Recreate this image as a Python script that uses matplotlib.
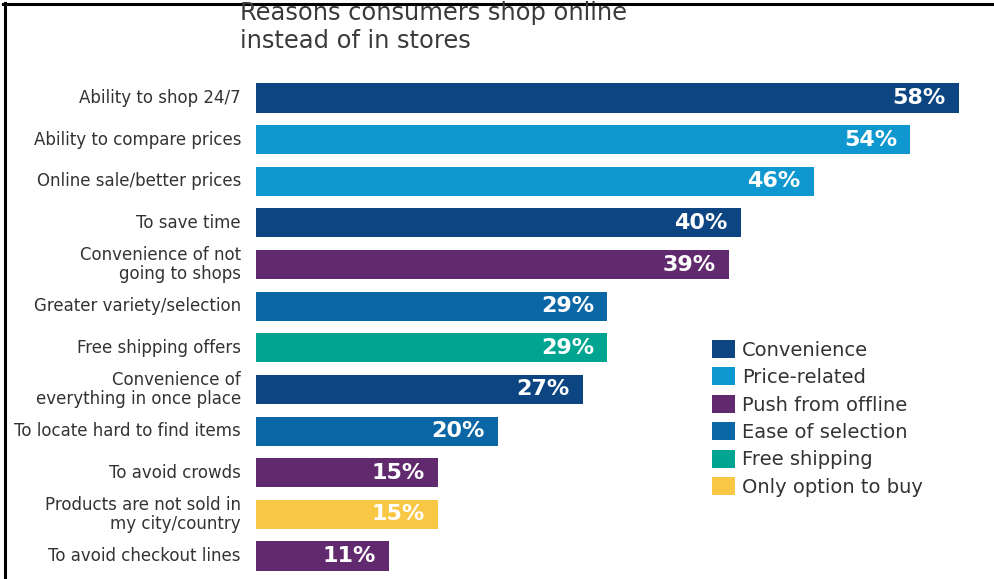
import matplotlib.pyplot as plt
from matplotlib.patches import Patch
from matplotlib.lines import Line2D

# Survey answers, top to bottom
reasons = [
    "Ability to shop 24/7",
    "Ability to compare prices",
    "Online sale/better prices",
    "To save time",
    "Convenience of not\ngoing to shops",
    "Greater variety/selection",
    "Free shipping offers",
    "Convenience of\neverything in once place",
    "To locate hard to find items",
    "To avoid crowds",
    "Products are not sold in\nmy city/country",
    "To avoid checkout lines",
]
shares = [58, 54, 46, 40, 39, 29, 29, 27, 20, 15, 15, 11]
groups = [
    "Convenience", "Price-related", "Price-related", "Convenience",
    "Push from offline", "Ease of selection", "Free shipping", "Convenience",
    "Ease of selection", "Push from offline", "Only option to buy",
    "Push from offline",
]
group_names = ["Convenience", "Price-related", "Push from offline",
               "Ease of selection", "Free shipping", "Only option to buy"]
title_lines = ["Reasons consumers shop online", "instead of in stores"]

palette = {
    "Convenience": "#0c4582",
    "Price-related": "#0f98cf",
    "Push from offline": "#622a6e",
    "Ease of selection": "#0b66a6",
    "Free shipping": "#00a592",
    "Only option to buy": "#f8c743",
}
TEXT = "#333333"

W, H = 994, 579
fig = plt.figure(figsize=(W / 100, H / 100), dpi=100)
fig.patch.set_facecolor("white")

# axes: x=0 at 256px, 12.12 px per percent; rows 41.6 px apart starting at 98px
px_per_unit = 12.12
row = 41.64
ax = fig.add_axes([256 / W, 0, (W - 256) / W, 1])
ax.set_xlim(0, (W - 256) / px_per_unit)
ax.set_ylim((H - 98) / row, -98 / row)
ax.axis("off")

ypos = list(range(len(reasons)))
colors = [palette[g] for g in groups]
ax.barh(ypos, shares, height=0.70, color=colors, edgecolor="none")

for y, v, lab in zip(ypos, shares, reasons):
    ax.text(v - 1.1, y, f"{v}%", ha="right", va="center", color="white",
            fontsize=16, fontweight="bold", family="DejaVu Sans")
    ax.text(-15 / px_per_unit, y, lab, ha="right", va="center", color=TEXT,
            fontsize=12, linespacing=1.05, clip_on=False)

# title, two lines
for i, line in enumerate(title_lines):
    fig.text(240 / W, 1 - (20 + 28 * i) / H, line, ha="left", va="baseline",
             fontsize=17.4, color="#3a3a3a")

handles = [Patch(facecolor=palette[g], edgecolor="none", label=g) for g in group_names]
fig.legend(handles=handles, loc="upper left",
           bbox_to_anchor=(712 / W, 1 - 340 / H), frameon=False,
           fontsize=14, borderpad=0, borderaxespad=0,
           handlelength=1.2, handleheight=1.05, handletextpad=0.35,
           labelspacing=0.40, labelcolor=TEXT)

# frame lines along the top and left edges
fig.add_artist(Line2D([3 / W, 1], [1 - 3.5 / H, 1 - 3.5 / H],
                      transform=fig.transFigure, color="black", lw=2.2))
fig.add_artist(Line2D([5 / W, 5 / W], [0, 1 - 3 / H],
                      transform=fig.transFigure, color="black", lw=2.2))

fig.savefig("out.png", dpi=100)
